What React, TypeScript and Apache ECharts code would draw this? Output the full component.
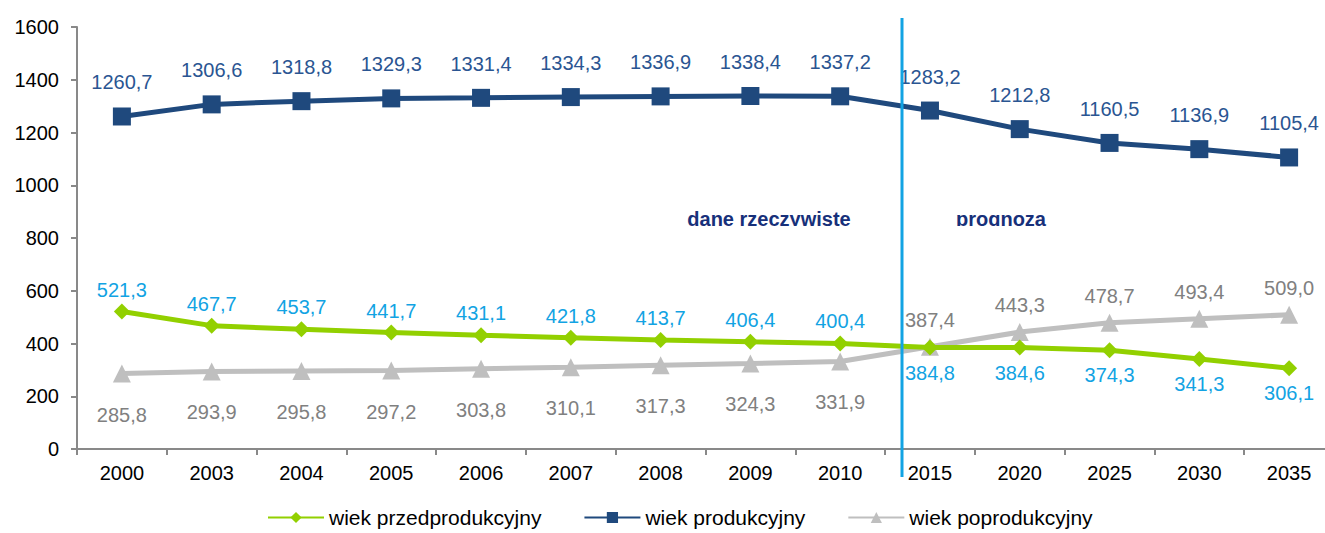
import React, { useEffect, useRef } from "react";
import * as echarts from "echarts";

const years = ["2000", "2003", "2004", "2005", "2006", "2007", "2008", "2009", "2010", "2015", "2020", "2025", "2030", "2035"];
const przedprodukcyjny = [521.3, 467.7, 453.7, 441.7, 431.1, 421.8, 413.7, 406.4, 400.4, 384.8, 384.6, 374.3, 341.3, 306.1];
const produkcyjny = [1260.7, 1306.6, 1318.8, 1329.3, 1331.4, 1334.3, 1336.9, 1338.4, 1337.2, 1283.2, 1212.8, 1160.5, 1136.9, 1105.4];
const poprodukcyjny = [285.8, 293.9, 295.8, 297.2, 303.8, 310.1, 317.3, 324.3, 331.9, 387.4, 443.3, 478.7, 493.4, 509.0];
const seriesNames = ["wiek przedprodukcyjny", "wiek produkcyjny", "wiek poprodukcyjny"];
const forecastStart = 9;

const FONT = "'Liberation Sans', Arial, sans-serif";

export default function App() {
  const ref = useRef<HTMLDivElement>(null);
  useEffect(() => {
    document.body.style.margin = "0";
    document.body.style.overflow = "hidden";
    const chart = echarts.init(ref.current!, null, { renderer: "svg" });
    const fmt = (p: any) => Number(p.value).toFixed(1).replace(".", ",");

    const mk = (vals: number[], before: any, after: any) =>
      vals.map((v, i) => ({ value: v, label: i < forecastStart ? before : after }));

    chart.setOption({
      animation: false,
      textStyle: { fontFamily: FONT },
      grid: { left: 77, right: 0, top: 27, bottom: 84, containLabel: false },
      legend: {
        left: 267,
        top: 507,
        padding: 0,
        itemWidth: 56,
        itemHeight: 14,
        itemGap: 42,
        textStyle: { fontSize: 21, color: "#000", fontFamily: FONT },
        data: seriesNames,
      },
      xAxis: {
        type: "category",
        data: years,
        boundaryGap: true,
        axisLine: { lineStyle: { color: "#898989", width: 2 } },
        axisTick: { show: true, length: 6, lineStyle: { color: "#898989", width: 2 } },
        axisLabel: { color: "#000", fontSize: 20, margin: 14, fontFamily: FONT },
      },
      yAxis: {
        type: "value",
        min: 0,
        max: 1600,
        interval: 200,
        axisLine: { show: true, lineStyle: { color: "#898989", width: 2 } },
        axisTick: { show: true, length: 6, lineStyle: { color: "#898989", width: 2 } },
        axisLabel: { color: "#000", fontSize: 20, margin: 18, fontFamily: FONT, formatter: (v: number) => String(v) },
        splitLine: { show: false },
      },
      series: [
        {
          name: seriesNames[0],
          type: "line",
          symbol: "diamond",
          symbolSize: 16,
          color: "#92D000",
          lineStyle: { width: 5, color: "#92D000" },
          itemStyle: { color: "#92D000" },
          label: { show: true, formatter: fmt, color: "#12A3E3", fontSize: 20, fontFamily: FONT },
          data: mk(przedprodukcyjny, { position: "top", distance: 4 }, { position: "bottom", distance: 7 }),
          z: 3,
        },
        {
          name: seriesNames[1],
          type: "line",
          symbol: "rect",
          symbolSize: 18,
          color: "#1F497D",
          lineStyle: { width: 5, color: "#1F497D" },
          itemStyle: { color: "#1F497D" },
          label: { show: true, position: "top", distance: 15, formatter: fmt, color: "#2A5592", fontSize: 20, fontFamily: FONT },
          data: produkcyjny,
          z: 4,
        },
        {
          name: seriesNames[2],
          type: "line",
          symbol: "triangle",
          symbolSize: 18,
          color: "#BFBFBF",
          lineStyle: { width: 5, color: "#BFBFBF" },
          itemStyle: { color: "#BFBFBF" },
          label: { show: true, formatter: fmt, color: "#808080", fontSize: 20, fontFamily: FONT },
          data: mk(poprodukcyjny, { position: "bottom", distance: 22 }, { position: "top", distance: 8 }),
          z: 2,
        },
      ],
      graphic: [
        {
          type: "line",
          shape: { x1: 902, y1: 18, x2: 902, y2: 477 },
          style: { stroke: "#12A3E3", lineWidth: 3 },
          z: 10,
        },
        {
          type: "text",
          x: 769,
          y: 219,
          style: { text: "dane rzeczywiste", fill: "#17307A", font: `bold 20px ${FONT}`, textAlign: "center", textVerticalAlign: "middle" },
          z: 10,
        },
        {
          type: "text",
          x: 1001,
          y: 219,
          style: { text: "prognoza", fill: "#17307A", font: `bold 20px ${FONT}`, textAlign: "center", textVerticalAlign: "middle" },
          z: 10,
        },
        {
          type: "rect",
          shape: { x: 670, y: 226, width: 200, height: 10 },
          style: { fill: "#fff" },
          z: 11,
        },
        {
          type: "rect",
          shape: { x: 940, y: 226, width: 120, height: 10 },
          style: { fill: "#fff" },
          z: 11,
        },
      ],
    });
    return () => chart.dispose();
  }, []);
  return <div ref={ref} style={{ width: 1334, height: 533 }} />;
}
